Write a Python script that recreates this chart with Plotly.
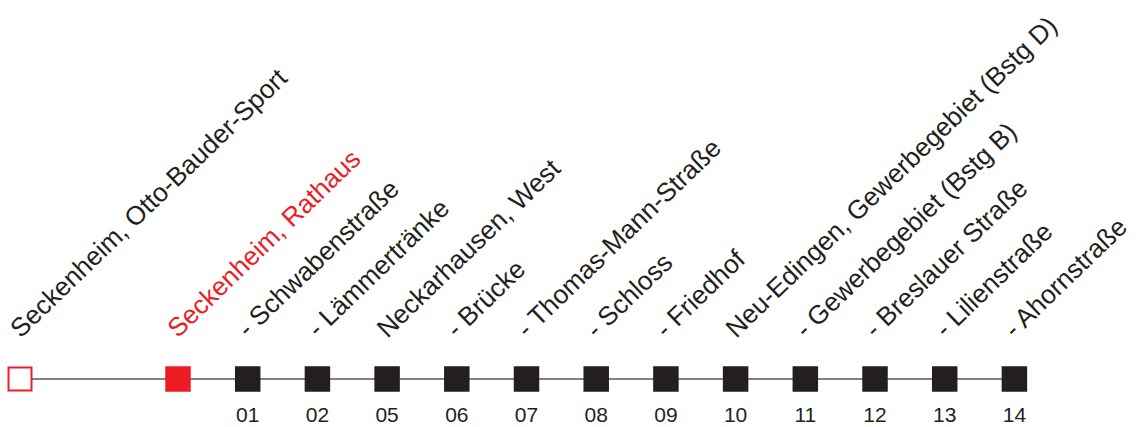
import plotly.graph_objects as go

stops = [
    "Seckenheim, Otto-Bauder-Sport",
    "Seckenheim, Rathaus",
    "- Schwabenstraße",
    "- Lämmertränke",
    "Neckarhausen, West",
    "- Brücke",
    "- Thomas-Mann-Straße",
    "- Schloss",
    "- Friedhof",
    "Neu-Edingen, Gewerbegebiet (Bstg D)",
    "- Gewerbegebiet (Bstg B)",
    "- Breslauer Straße",
    "- Lilienstraße",
    "- Ahornstraße",
]
minutes = ["", "", "01", "02", "05", "06", "07", "08", "09", "10", "11", "12", "13", "14"]
# stop kinds: 'origin' (open square), 'current' (red filled), 'normal'
kinds = ["origin", "current"] + ["normal"] * 12

# layout: spacing between regular stops = 1 unit; first gap is wider
FIRST_GAP = 2.267
xs = [0.0]
for i in range(1, len(stops)):
    xs.append(xs[-1] + (FIRST_GAP if i == 1 else 1.0))

W, H = 1144, 427
PX_PER_UNIT = 69.7
X0_PX = 20.0
x_range = [-X0_PX / PX_PER_UNIT, (W - X0_PX) / PX_PER_UNIT]

DARK = "#231f20"
RED = "#ed1c24"
LINE_Y = H - 379
NUM_Y = H - 416.5
LABEL_Y = H - 346

fig = go.Figure()

# route line
fig.add_trace(go.Scatter(
    x=[xs[0], xs[-1]], y=[LINE_Y, LINE_Y], mode="lines",
    line=dict(color="#5a5a5a", width=1.5), hoverinfo="skip", showlegend=False))

# squares
for x, k in zip(xs, kinds):
    if k == "origin":
        marker = dict(symbol="square", size=23, color="white", line=dict(color=RED, width=2))
    elif k == "current":
        marker = dict(symbol="square", size=25.5, color=RED, line=dict(width=0))
    else:
        marker = dict(symbol="square", size=25.5, color=DARK, line=dict(width=0))
    fig.add_trace(go.Scatter(x=[x], y=[LINE_Y], mode="markers", marker=marker,
                             hoverinfo="skip", showlegend=False))

# minute numbers
fig.add_trace(go.Scatter(
    x=xs, y=[NUM_Y] * len(xs), mode="text", text=minutes,
    textfont=dict(family="Liberation Sans, Arial, sans-serif", size=21, color=DARK),
    hoverinfo="skip", showlegend=False))

# rotated stop labels
for x, name, k in zip(xs, stops, kinds):
    fig.add_annotation(
        x=x, y=LABEL_Y, xref="x", yref="y", text=name, showarrow=False,
        textangle=-44, xanchor="left", yanchor="bottom", xshift=-19,
        font=dict(family="Liberation Sans, Arial, sans-serif", size=26.2,
                  color=RED if k == "current" else DARK))

fig.update_layout(
    width=W, height=H, margin=dict(l=0, r=0, t=0, b=0),
    paper_bgcolor="white", plot_bgcolor="white",
    xaxis=dict(range=x_range, visible=False, fixedrange=True),
    yaxis=dict(range=[0, H], visible=False, fixedrange=True),
)

fig.write_html("out.html", config={"displayModeBar": False, "staticPlot": True},
               post_script="document.body.style.margin='0';document.body.style.overflow='hidden';")
